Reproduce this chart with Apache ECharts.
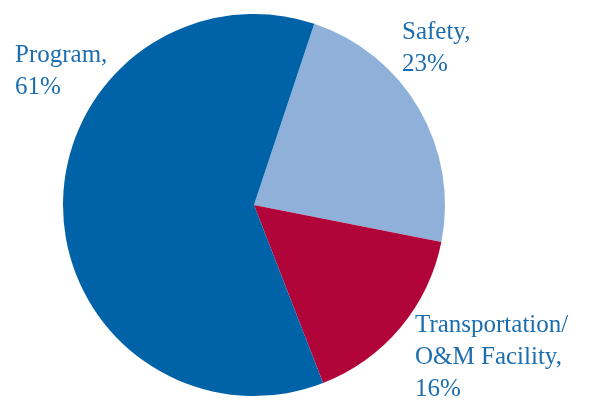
<!DOCTYPE html>
<html>
<head>
<meta charset="utf-8">
<script src="https://cdn.jsdelivr.net/npm/echarts@6/dist/echarts.min.js"></script>
<style>
  html, body { margin: 0; padding: 0; background: #fff; }
  #chart { width: 600px; height: 402px; }
</style>
</head>
<body>
<div id="chart"></div>
<script>
// Data
var categories = ['Safety', 'Transportation/\nO&M Facility', 'Program'];
var shares = [23, 16, 61];
var colors = ['#8fb1d9', '#b10439', '#0063a7'];

// Label anchor points (left/top of each label block)
var labelPos = [[402, 16], [415, 309], [15, 39]];

var chart = echarts.init(document.getElementById('chart'));

chart.setOption({

    // Global text styles
    textStyle: {
        fontFamily: '"Liberation Serif", "DejaVu Serif", serif'
    },

    animation: false,

    // Add series
    series: [{
        type: 'pie',
        center: [254, 205],
        radius: 191,
        startAngle: 71.6,
        clockwise: true,
        silent: true,
        avoidLabelOverlap: false,
        itemStyle: {
            borderWidth: 0
        },
        label: {
            show: true,
            position: 'outside',
            color: '#1b6daf',
            fontSize: 25,
            lineHeight: 32,
            fontFamily: '"Liberation Serif", "DejaVu Serif", serif',
            formatter: function (p) {
                return p.name + ',\n' + p.value + '%';
            }
        },
        labelLine: { show: false },
        labelLayout: function (params) {
            var pos = labelPos[params.dataIndex];
            return {
                x: pos[0],
                y: pos[1],
                align: 'left',
                verticalAlign: 'top',
                hideOverlap: false
            };
        },
        data: categories.map(function (name, i) {
            return { name: name, value: shares[i], itemStyle: { color: colors[i] } };
        })
    }]
});
</script>
</body>
</html>
